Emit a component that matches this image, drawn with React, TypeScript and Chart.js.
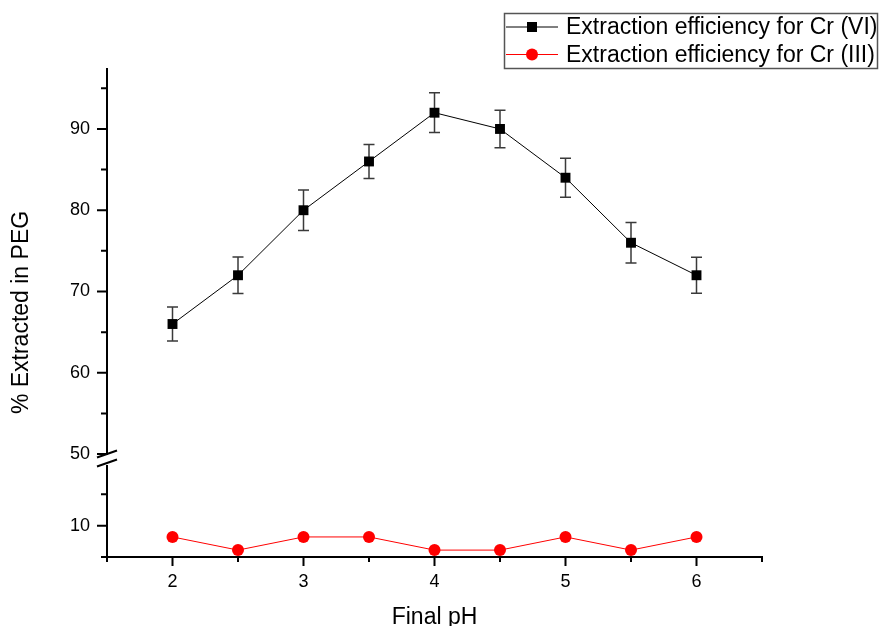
import React, { useEffect, useRef } from "react";
import { Chart, registerables } from "chart.js";

Chart.register(...registerables);

// ---- data ----
const phValues = [2, 2.5, 3, 3.5, 4, 4.5, 5, 5.5, 6];
const crVI = [66, 72, 80, 86, 92, 90, 84, 76, 72];
const crVIError = [2.1, 2.25, 2.5, 2.1, 2.45, 2.3, 2.4, 2.5, 2.2];
const crIII = [8.2, 6.1, 8.2, 8.2, 6.1, 6.1, 8.2, 6.1, 8.2];
const legendLabels = [
  "Extraction efficiency for Cr (VI)",
  "Extraction efficiency for Cr (III)",
];
const xTitle = "Final pH";
const yTitle = "% Extracted in PEG";
const xRange = [1.5, 6.5];
const upperRange = [48.9, 97.5];
const lowerRange = [5, 20];
const breakValue = 50;

const FONT = '"Liberation Sans", Arial, Helvetica, sans-serif';

const customPlugin = {
  id: "customDecor",
  beforeDatasetsDraw(chart: any) {
    const ctx = chart.ctx;
    const xs = chart.scales.x;
    const yU = chart.scales.yUpper;
    ctx.save();
    ctx.strokeStyle = "#3a3a3a";
    ctx.lineWidth = 1.5;
    phValues.forEach((ph, i) => {
      const px = xs.getPixelForValue(ph);
      const top = yU.getPixelForValue(crVI[i] + crVIError[i]);
      const bot = yU.getPixelForValue(crVI[i] - crVIError[i]);
      ctx.beginPath();
      ctx.moveTo(px, top);
      ctx.lineTo(px, bot);
      ctx.moveTo(px - 5.5, top);
      ctx.lineTo(px + 5.5, top);
      ctx.moveTo(px - 5.5, bot);
      ctx.lineTo(px + 5.5, bot);
      ctx.stroke();
    });
    ctx.restore();
  },
  afterDraw(chart: any) {
    const ctx = chart.ctx;
    const area = chart.chartArea;
    const xs = chart.scales.x;
    const yU = chart.scales.yUpper;
    const yL = chart.scales.yLower;
    const axisX = area.left;
    const breakY = yU.getPixelForValue(breakValue);
    ctx.save();
    ctx.strokeStyle = "#000";
    ctx.lineWidth = 2;
    ctx.lineCap = "butt";
    // x axis line
    ctx.beginPath();
    ctx.moveTo(area.left - 1, area.bottom);
    ctx.lineTo(area.right + 1, area.bottom);
    // y axis upper segment
    ctx.moveTo(axisX, area.top);
    ctx.lineTo(axisX, breakY + 1);
    // y axis lower segment
    ctx.moveTo(axisX, yL.top + 2);
    ctx.lineTo(axisX, area.bottom + 1);
    ctx.stroke();

    // x ticks
    ctx.beginPath();
    xs.ticks.forEach((t: any) => {
      const px = xs.getPixelForValue(t.value);
      const len = Math.abs(t.value - Math.round(t.value)) < 1e-6 ? 9 : 5;
      ctx.moveTo(px, area.bottom);
      ctx.lineTo(px, area.bottom + len);
    });
    // y upper ticks
    yU.ticks.forEach((t: any) => {
      if (t.value < breakValue) return;
      const py = yU.getPixelForValue(t.value);
      const len = t.value % 10 === 0 ? 10 : 6;
      ctx.moveTo(axisX, py);
      ctx.lineTo(axisX - len, py);
    });
    // y lower ticks
    yL.ticks.forEach((t: any) => {
      if (t.value >= lowerRange[1]) return;
      const py = yL.getPixelForValue(t.value);
      const len = t.value % 10 === 0 ? 10 : 6;
      ctx.moveTo(axisX, py);
      ctx.lineTo(axisX - len, py);
    });
    ctx.stroke();

    // break marks
    const gap = yL.top - breakY;
    ctx.beginPath();
    [breakY, breakY + gap].forEach((cy) => {
      ctx.moveTo(axisX - 10, cy + 3.5);
      ctx.lineTo(axisX + 10, cy - 3.5);
    });
    ctx.stroke();

    // y title
    ctx.fillStyle = "#000";
    ctx.font = `23px ${FONT}`;
    ctx.textAlign = "center";
    ctx.textBaseline = "middle";
    ctx.save();
    ctx.translate(22, (area.top + area.bottom) / 2);
    ctx.rotate(-Math.PI / 2);
    ctx.fillText(yTitle, 0, 0);
    ctx.restore();

    // legend
    const bx = 504, by = 13, bw = 374, bh = 56;
    ctx.strokeStyle = "#555";
    ctx.lineWidth = 1.5;
    ctx.strokeRect(bx + 0.5, by + 0.5, bw - 1, bh - 1);
    const rows = [by + 14, by + 41.5];
    const colors = ["#000", "#ff0000"];
    rows.forEach((ry, i) => {
      ctx.strokeStyle = colors[i];
      ctx.lineWidth = 1;
      ctx.beginPath();
      ctx.moveTo(bx + 2, ry);
      ctx.lineTo(bx + 54, ry);
      ctx.stroke();
      ctx.fillStyle = colors[i];
      const mx = bx + 28;
      if (i === 0) {
        ctx.fillRect(mx - 5, ry - 5, 10, 10);
      } else {
        ctx.beginPath();
        ctx.arc(mx, ry, 6, 0, Math.PI * 2);
        ctx.fill();
      }
      ctx.fillStyle = "#000";
      ctx.font = `23px ${FONT}`;
      ctx.textAlign = "left";
      ctx.textBaseline = "middle";
      ctx.fillText(legendLabels[i], bx + 62, ry + 1);
    });
    ctx.restore();
  },
};

export default function App() {
  const ref = useRef<HTMLCanvasElement>(null);
  useEffect(() => {
    document.body.style.margin = "0";
    const chart = new Chart(ref.current as HTMLCanvasElement, {
      type: "line",
      data: {
        datasets: [
          {
            label: legendLabels[0],
            data: phValues.map((x, i) => ({ x, y: crVI[i] })),
            yAxisID: "yUpper",
            borderColor: "#000",
            borderWidth: 1,
            pointStyle: "rect",
            pointRadius: 7,
            pointBackgroundColor: "#000",
            pointBorderColor: "#000",
            pointBorderWidth: 0,
            tension: 0,
            fill: false,
          },
          {
            label: legendLabels[1],
            data: phValues.map((x, i) => ({ x, y: crIII[i] })),
            yAxisID: "yLower",
            borderColor: "#ff0000",
            borderWidth: 1,
            pointStyle: "circle",
            pointRadius: 6,
            pointBackgroundColor: "#ff0000",
            pointBorderColor: "#ff0000",
            pointBorderWidth: 0,
            tension: 0,
            fill: false,
            clip: false,
          },
        ],
      },
      options: {
        animation: false,
        responsive: false,
        devicePixelRatio: 1,
        events: [],
        layout: { padding: { top: 68, right: 117, left: 0, bottom: 0 } },
        plugins: {
          legend: { display: false },
          tooltip: { enabled: false },
        },
        scales: {
          x: {
            type: "linear",
            position: "bottom",
            min: xRange[0],
            max: xRange[1],
            grid: { display: false, drawTicks: false, tickLength: 0 },
            border: { display: false },
            ticks: {
              stepSize: 0.5,
              autoSkip: false,
              maxRotation: 0,
              includeBounds: false,
              padding: 14,
              color: "#000",
              font: { family: FONT, size: 18 },
              callback: (v: any) =>
                Math.abs(v - Math.round(v)) < 1e-6 ? String(Math.round(v)) : "",
            },
            title: {
              display: true,
              text: xTitle,
              color: "#000",
              font: { family: FONT, size: 23, lineHeight: 1 },
              padding: { top: 0, bottom: -3 },
            },
            afterFit: (s: any) => {
              s.height = 69;
            },
          },
          yLower: {
            type: "linear",
            position: "left",
            stack: "y",
            stackWeight: 94,
            weight: 0,
            min: lowerRange[0],
            max: lowerRange[1],
            grid: { display: false, drawTicks: false, tickLength: 0 },
            border: { display: false },
            ticks: {
              stepSize: 5,
              includeBounds: false,
              autoSkip: false,
              padding: 17,
              color: "#000",
              font: { family: FONT, size: 18 },
              callback: (v: any) => (v % 10 === 0 && v < lowerRange[1] ? String(v) : ""),
            },
            afterFit: (s: any) => {
              s.width = 107;
            },
          },
          yUpper: {
            type: "linear",
            position: "left",
            stack: "y",
            stackWeight: 395,
            weight: 1,
            min: upperRange[0],
            max: upperRange[1],
            grid: { display: false, drawTicks: false, tickLength: 0 },
            border: { display: false },
            ticks: {
              stepSize: 5,
              includeBounds: false,
              autoSkip: false,
              padding: 17,
              color: "#000",
              font: { family: FONT, size: 18 },
              callback: (v: any) => (v % 10 === 0 && v >= breakValue ? String(v) : ""),
            },
            afterFit: (s: any) => {
              s.width = 107;
            },
          },
        },
      } as any,
      plugins: [customPlugin],
    } as any);
    return () => chart.destroy();
  }, []);
  return (
    <div style={{ width: 879, height: 626 }}>
      <canvas ref={ref} width={879} height={626} style={{ display: "block" }} />
    </div>
  );
}
